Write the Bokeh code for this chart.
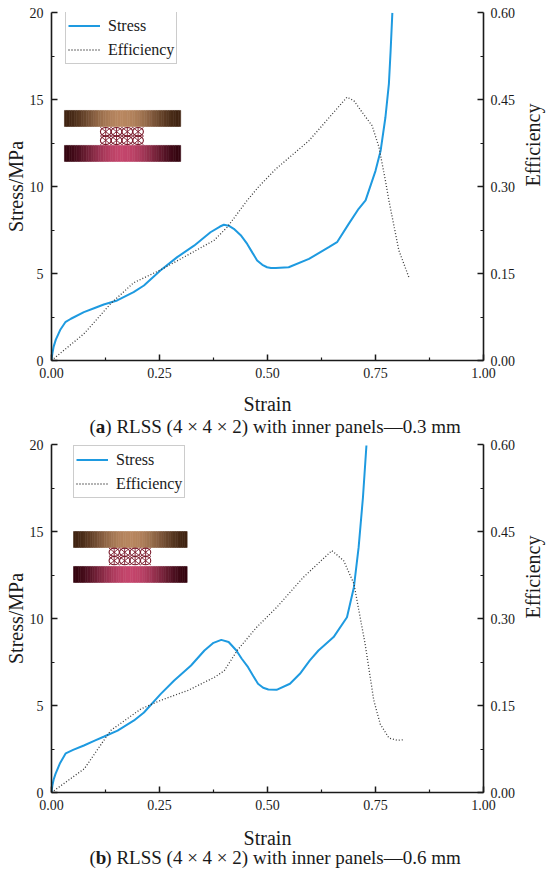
import numpy as np
from bokeh.plotting import figure
from bokeh.models import (Range1d, LinearAxis, FixedTicker, NumeralTickFormatter,
                          Legend, LegendItem)
from bokeh.core.properties import value
from bokeh.layouts import column
from bokeh.embed import file_html
from bokeh.resources import INLINE

# ---------------- data ----------------
# Panel (a): inner panels 0.3 mm
strain_a_stress = [0, 0.002, 0.005, 0.01, 0.02, 0.032, 0.045, 0.075, 0.1, 0.121, 0.152, 0.19,
                   0.214, 0.252, 0.291, 0.33, 0.368, 0.39, 0.399, 0.41, 0.422, 0.438, 0.453,
                   0.465, 0.476, 0.488, 0.499, 0.508, 0.519, 0.549, 0.596, 0.642, 0.661, 0.688,
                   0.711, 0.727, 0.75, 0.762, 0.773, 0.781, 0.785, 0.789]
stress_a = [0, 0.4, 0.8, 1.2, 1.75, 2.2, 2.4, 2.78, 3.02, 3.22, 3.45, 3.93,
            4.31, 5.17, 5.94, 6.6, 7.37, 7.7, 7.8, 7.75, 7.57, 7.2, 6.7,
            6.2, 5.75, 5.5, 5.36, 5.32, 5.31, 5.36, 5.84, 6.51, 6.8, 7.85,
            8.72, 9.2, 10.9, 12.07, 13.98, 15.9, 17.8, 19.98]
strain_a_eff = [0, 0.075, 0.137, 0.19, 0.252, 0.306, 0.376, 0.407, 0.453, 0.48, 0.519,
                0.596, 0.684, 0.70, 0.719, 0.742, 0.758, 0.773, 0.781, 0.804, 0.827]
eff_a = [0, 0.046, 0.098, 0.134, 0.156, 0.178, 0.207, 0.23, 0.276, 0.30, 0.33,
         0.379, 0.454, 0.448, 0.428, 0.405, 0.368, 0.31, 0.276, 0.19, 0.144]

# Panel (b): inner panels 0.6 mm
strain_b_stress = [0, 0.002, 0.005, 0.0093, 0.02, 0.033, 0.05, 0.075, 0.1, 0.122, 0.153, 0.191,
                   0.214, 0.253, 0.284, 0.323, 0.354, 0.375, 0.393, 0.41, 0.428, 0.44, 0.455,
                   0.467, 0.478, 0.49, 0.502, 0.521, 0.552, 0.575, 0.598, 0.618, 0.653, 0.684,
                   0.7, 0.711, 0.721, 0.729]
stress_b = [0, 0.4, 0.75, 1.07, 1.7, 2.25, 2.45, 2.7, 2.98, 3.22, 3.56, 4.14,
            4.6, 5.67, 6.44, 7.3, 8.16, 8.6, 8.77, 8.65, 8.16, 7.7, 7.2,
            6.7, 6.25, 6.02, 5.92, 5.9, 6.25, 6.82, 7.59, 8.16, 8.93, 10.07,
            11.8, 14.1, 16.97, 19.94]
strain_b_eff = [0, 0.076, 0.137, 0.207, 0.253, 0.316, 0.378, 0.40, 0.43, 0.475, 0.521,
                0.583, 0.649, 0.676, 0.70, 0.726, 0.746, 0.761, 0.781, 0.80, 0.816]
eff_b = [0, 0.041, 0.107, 0.144, 0.159, 0.176, 0.199, 0.21, 0.245, 0.285, 0.319,
         0.371, 0.417, 0.40, 0.36, 0.256, 0.159, 0.118, 0.094, 0.09, 0.091]

x_ticks = [0, 0.25, 0.5, 0.75, 1.0]
x_minor = [0.125, 0.375, 0.625, 0.875]
y_ticks = [0, 5, 10, 15, 20]
y_minor = [2.5, 7.5, 12.5, 17.5]
e_ticks = [0, 0.15, 0.30, 0.45, 0.60]
e_minor = [0.075, 0.225, 0.375, 0.525]

x_label = "Strain"
y_label = "Stress/MPa"
e_label = "Efficiency"
series_names = ["Stress", "Efficiency"]
captions = [("a", ") RLSS (4 × 4 × 2) with inner panels—0.3 mm"),
            ("b", ") RLSS (4 × 4 × 2) with inner panels—0.6 mm")]

# ---------------- styling ----------------
FONT = "'Liberation Serif', serif"
BLUE = "#1E9AE0"
DOT = "#3a3a3a"
AX = "#1a1a1a"
LEFT, FW, RIGHT = 51, 432, 67


def hexmix(c1, c2, t):
    a = np.array([int(c1[i:i + 2], 16) for i in (1, 3, 5)], float)
    b = np.array([int(c2[i:i + 2], 16) for i in (1, 3, 5)], float)
    c = a + (b - a) * t
    return "#%02x%02x%02x" % tuple(int(round(v)) for v in c)


def plate(p, x0, x1, y0, y1, edge, mid, n=48):
    xs = np.linspace(x0, x1, n + 1)
    cols = []
    for i in range(n):
        t = (i + 0.5) / n
        w = np.sin(np.pi * t) ** 1.6
        cols.append(hexmix(edge, mid, w))
    p.quad(left=xs[:-1], right=xs[1:], bottom=y0, top=y1,
           fill_color=cols, line_color=cols, line_width=0.6)


def lattice(p, x0, x1, y0, y1, ncol=4, nrow=2, color="#7b1b2c"):
    cw = (x1 - x0) / ncol
    ch = (y1 - y0) / nrow
    cx, cy, xs, ys = [], [], [], []
    for i in range(ncol):
        for j in range(nrow):
            a = x0 + i * cw
            b = y0 + j * ch
            cx.append(a + cw / 2)
            cy.append(b + ch / 2)
            xs += [[a, a + cw], [a, a + cw], [a + cw / 2, a + cw / 2]]
            ys += [[b, b + ch], [b + ch, b], [b, b + ch]]
    p.ellipse(x=cx, y=cy, width=cw * 0.98, height=ch * 0.98,
              fill_color=None, line_color=color, line_width=1.1)
    p.multi_line(xs=xs, ys=ys, line_color=color, line_width=0.9)


def style_axis(ax, standoff, label=None, label_standoff=0):
    ax.axis_line_width = 1.6
    ax.axis_line_color = AX
    ax.major_tick_in = 6
    ax.major_tick_out = 0
    ax.minor_tick_in = 3
    ax.minor_tick_out = 0
    ax.major_tick_line_width = 1.5
    ax.major_tick_line_color = AX
    ax.minor_tick_line_width = 1.2
    ax.minor_tick_line_color = AX
    ax.major_label_text_font = FONT
    ax.major_label_text_font_size = "14px"
    ax.major_label_text_color = AX
    ax.major_label_standoff = standoff
    if label is not None:
        ax.axis_label = label
        ax.axis_label_text_font = FONT
        ax.axis_label_text_font_size = "20px"
        ax.axis_label_text_font_style = "normal"
        ax.axis_label_text_color = AX
        ax.axis_label_standoff = label_standoff


def panel(sx, sy, ex, ey, inset, legend_off, top, bottom):
    p = figure(frame_width=FW, frame_height=348, min_border_left=LEFT,
               min_border_right=RIGHT, min_border_top=top,
               min_border_bottom=bottom,
               x_range=Range1d(0, 1), y_range=Range1d(0, 20),
               output_backend="svg", toolbar_location=None)
    p.extra_y_ranges = {"eff": Range1d(0, 0.6)}
    p.grid.visible = False
    p.outline_line_color = None
    p.background_fill_color = "white"
    p.border_fill_color = "white"

    p.xaxis.ticker = FixedTicker(ticks=x_ticks, minor_ticks=x_minor)
    p.xaxis.formatter = NumeralTickFormatter(format="0.00")
    p.yaxis.ticker = FixedTicker(ticks=y_ticks, minor_ticks=y_minor)
    p.yaxis.formatter = NumeralTickFormatter(format="0")
    right = LinearAxis(y_range_name="eff",
                       ticker=FixedTicker(ticks=e_ticks, minor_ticks=e_minor),
                       formatter=NumeralTickFormatter(format="0.00"))
    p.add_layout(right, "right")
    style_axis(p.xaxis[0], 7)
    style_axis(p.yaxis[0], 8, y_label, 0)
    style_axis(right, 7, e_label, 15)
    try:
        right.axis_label_orientation = np.pi / 2
    except Exception:
        pass

    # inset sketch of the sandwich structure
    (px0, px1, ty0, ty1, lx0, lx1, ly0, ly1, by0, by1) = inset
    plate(p, px0, px1, ty0, ty1, "#3e2311", "#b88760")
    plate(p, px0, px1, by0, by1, "#33040f", "#c4466c")
    lattice(p, lx0, lx1, ly0, ly1)

    r1 = p.line(sx, sy, line_color=BLUE, line_width=2)
    r2 = p.line(ex, ey, y_range_name="eff", line_color=DOT, line_width=1.3,
                line_dash="1 2")

    lg = Legend(items=[LegendItem(label=series_names[0], renderers=[r1]),
                       LegendItem(label=series_names[1], renderers=[r2])],
                location=legend_off)
    lg.label_text_font = FONT
    lg.label_text_font_size = "16px"
    lg.label_text_color = AX
    lg.border_line_color = "#999999"
    lg.border_line_width = 1
    lg.background_fill_color = "white"
    lg.background_fill_alpha = 1
    lg.glyph_width = 32
    lg.glyph_height = 23
    lg.label_height = 23
    lg.padding = 2
    lg.spacing = 1
    lg.label_standoff = 8
    lg.margin = 0
    p.add_layout(lg)
    return p


def caption(letter, rest, height, strain_base, cap_base):
    # strip under a panel holding the x-axis title and the caption;
    # x data units equal page pixels (frame spans 51..483), y measured from top
    c = figure(frame_width=FW, frame_height=height, min_border_left=LEFT,
               min_border_right=RIGHT, min_border_top=0, min_border_bottom=0,
               x_range=Range1d(LEFT, LEFT + FW), y_range=Range1d(height, 0),
               x_axis_location=None, y_axis_location=None,
               output_backend="svg", toolbar_location=None)
    c.grid.visible = False
    c.outline_line_color = None
    c.background_fill_color = "white"
    c.border_fill_color = "white"
    c.text(x=[LEFT + FW / 2], y=[strain_base], text=[x_label], text_font=value(FONT),
           text_font_size="20px", text_color=AX, text_baseline="alphabetic",
           text_align="center")
    x0 = 89.0
    common = dict(text_font=value(FONT), text_font_size="19px", text_color=AX,
                  text_baseline="alphabetic", text_align="left")
    c.text(x=[x0], y=[cap_base], text=["("], **common)
    c.text(x=[x0 + 6.33], y=[cap_base], text=[letter], text_font_style="bold", **common)
    c.text(x=[x0 + 6.33 + 9.5], y=[cap_base], text=[rest], **common)
    return c


inset_a = (0.030, 0.299, 13.45, 14.37, 0.113, 0.213, 12.40, 13.40, 11.44, 12.36)
inset_b = (0.051, 0.314, 14.08, 15.00, 0.133, 0.230, 13.08, 14.05, 12.07, 12.99)

pa = panel(strain_a_stress, stress_a, strain_a_eff, eff_a, inset_a, (14, 296), 12, 26)
ca = caption(captions[0][0], captions[0][1], 51, 17, 40)
pb = panel(strain_b_stress, stress_b, strain_b_eff, eff_b, inset_b, (22, 294), 7, 26)
cb = caption(captions[1][0], captions[1][1], 54, 19, 39)

layout = column(pa, ca, pb, cb, spacing=0)
open("out.html", "w").write(file_html(layout, INLINE))
